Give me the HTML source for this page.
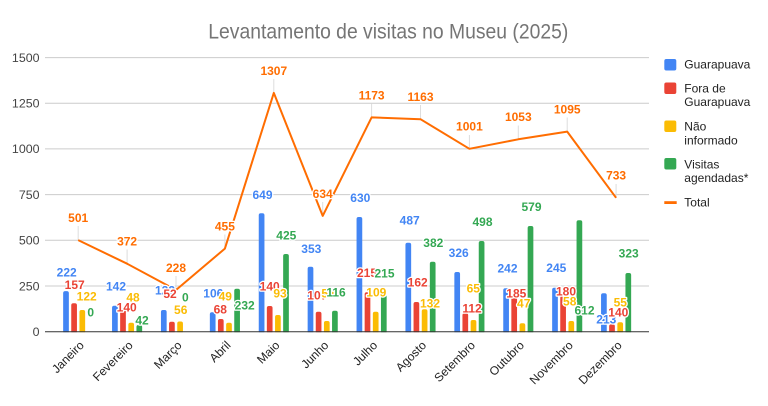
<!DOCTYPE html>
<html><head><meta charset="utf-8"><style>
html,body{margin:0;padding:0;background:#fff;}
svg{display:block;}
.yl{font-family:"Liberation Sans",Arial,sans-serif;font-size:12.4px;fill:#444;text-anchor:end;}
.xl{font-family:"Liberation Sans",Arial,sans-serif;font-size:12px;fill:#222;text-anchor:end;}
.lg{font-family:"Liberation Sans",Arial,sans-serif;font-size:12px;fill:#222;}
.dl{font-family:"Liberation Sans",Arial,sans-serif;font-size:12px;font-weight:bold;text-anchor:middle;stroke:#fff;stroke-width:2.5px;paint-order:stroke;stroke-linejoin:round;}
.b{fill:#4285f4}.r{fill:#ea4335}.y{fill:#fbbc04}.g{fill:#34a853}.o{fill:#ff6d01}
</style></head><body>
<svg width="768" height="406" viewBox="0 0 768 406" xmlns="http://www.w3.org/2000/svg">
<rect width="768" height="406" fill="#fff"/>
<text x="388.3" y="38.3" font-family="Liberation Sans, Arial, sans-serif" font-size="21" fill="#757575" text-anchor="middle" textLength="360" lengthAdjust="spacingAndGlyphs">Levantamento de visitas no Museu (2025)</text>

<!-- gridlines -->
<g stroke="#cccccc" stroke-width="1">
<line x1="45" x2="649" y1="57.6" y2="57.6"/>
<line x1="45" x2="649" y1="103.3" y2="103.3"/>
<line x1="45" x2="649" y1="148.9" y2="148.9"/>
<line x1="45" x2="649" y1="194.6" y2="194.6"/>
<line x1="45" x2="649" y1="240.3" y2="240.3"/>
<line x1="45" x2="649" y1="286.0" y2="286.0"/>
</g>
<g class="yl">
<text x="39.5" y="61.9">1500</text>
<text x="39.5" y="107.6">1250</text>
<text x="39.5" y="153.2">1000</text>
<text x="39.5" y="198.9">750</text>
<text x="39.5" y="244.6">500</text>
<text x="39.5" y="290.3">250</text>
<text x="39.5" y="336">0</text>
</g>

<!-- bars -->
<g>
<rect class="b" x="63.15" y="291.1" width="5.7" height="42.4" rx="2"/>
<rect class="r" x="71.25" y="303.3" width="5.7" height="30.2" rx="2"/>
<rect class="y" x="79.45" y="310" width="5.7" height="23.5" rx="2"/>

<rect class="b" x="112.05" y="305.7" width="5.7" height="27.8" rx="2"/>
<rect class="r" x="120.15" y="310" width="5.7" height="23.5" rx="2"/>
<rect class="y" x="128.35" y="322.7" width="5.7" height="10.8" rx="2"/>
<rect class="g" x="136.45" y="325" width="5.7" height="8.5" rx="2"/>

<rect class="b" x="160.95" y="310" width="5.7" height="23.5" rx="2"/>
<rect class="r" x="169.05" y="321.7" width="5.7" height="11.8" rx="2"/>
<rect class="y" x="177.25" y="321.5" width="5.7" height="12" rx="2"/>

<rect class="b" x="209.85" y="312.3" width="5.7" height="21.2" rx="2"/>
<rect class="r" x="217.95" y="319" width="5.7" height="14.5" rx="2"/>
<rect class="y" x="226.15" y="322.7" width="5.7" height="10.8" rx="2"/>
<rect class="g" x="234.25" y="288.7" width="5.7" height="44.8" rx="2"/>

<rect class="b" x="258.75" y="213.3" width="5.7" height="120.2" rx="2"/>
<rect class="r" x="266.85" y="306" width="5.7" height="27.5" rx="2"/>
<rect class="y" x="275.05" y="315" width="5.7" height="18.5" rx="2"/>
<rect class="g" x="283.15" y="254" width="5.7" height="79.5" rx="2"/>

<rect class="b" x="307.65" y="266.7" width="5.7" height="66.8" rx="2"/>
<rect class="r" x="315.75" y="311.7" width="5.7" height="21.8" rx="2"/>
<rect class="y" x="323.95" y="321" width="5.7" height="12.5" rx="2"/>
<rect class="g" x="332.05" y="310.7" width="5.7" height="22.8" rx="2"/>

<rect class="b" x="356.55" y="217" width="5.7" height="116.5" rx="2"/>
<rect class="r" x="364.65" y="292.3" width="5.7" height="41.2" rx="2"/>
<rect class="y" x="372.85" y="311.7" width="5.7" height="21.8" rx="2"/>
<rect class="g" x="380.95" y="295" width="5.7" height="38.5" rx="2"/>

<rect class="b" x="405.45" y="242.7" width="5.7" height="90.8" rx="2"/>
<rect class="r" x="413.55" y="302" width="5.7" height="31.5" rx="2"/>
<rect class="y" x="421.75" y="309.3" width="5.7" height="24.2" rx="2"/>
<rect class="g" x="429.85" y="261.7" width="5.7" height="71.8" rx="2"/>

<rect class="b" x="454.35" y="272" width="5.7" height="61.5" rx="2"/>
<rect class="r" x="462.45" y="313.3" width="5.7" height="20.2" rx="2"/>
<rect class="y" x="470.65" y="320" width="5.7" height="13.5" rx="2"/>
<rect class="g" x="478.75" y="241" width="5.7" height="92.5" rx="2"/>

<rect class="b" x="503.25" y="288.3" width="5.7" height="45.2" rx="2"/>
<rect class="r" x="511.35" y="297.3" width="5.7" height="36.2" rx="2"/>
<rect class="y" x="519.55" y="323.3" width="5.7" height="10.2" rx="2"/>
<rect class="g" x="527.65" y="226" width="5.7" height="107.5" rx="2"/>

<rect class="b" x="552.15" y="287.7" width="5.7" height="45.8" rx="2"/>
<rect class="r" x="560.25" y="296" width="5.7" height="37.5" rx="2"/>
<rect class="y" x="568.45" y="321" width="5.7" height="12.5" rx="2"/>
<rect class="g" x="576.55" y="220.3" width="5.7" height="113.2" rx="2"/>

<rect class="b" x="601.05" y="293.3" width="5.7" height="40.2" rx="2"/>
<rect class="r" x="609.15" y="324.3" width="5.7" height="9.2" rx="2"/>
<rect class="y" x="617.35" y="322.3" width="5.7" height="11.2" rx="2"/>
<rect class="g" x="625.45" y="273" width="5.7" height="60.5" rx="2"/>
</g>
<rect x="44" y="332.2" width="610" height="4" fill="#fff"/>
<line x1="45" x2="649" y1="331.7" y2="331.7" stroke="#333" stroke-width="1"/>

<!-- total leader lines -->
<g stroke="#dddddd" stroke-width="1">
<line x1="78.2" x2="78.2" y1="226" y2="240"/>
<line x1="127.1" x2="127.1" y1="249.5" y2="263.5"/>
<line x1="176" x2="176" y1="276" y2="290"/>
<line x1="224.9" x2="224.9" y1="234.5" y2="248.5"/>
<line x1="273.8" x2="273.8" y1="79" y2="93"/>
<line x1="322.7" x2="322.7" y1="202" y2="216"/>
<line x1="371.6" x2="371.6" y1="103.5" y2="117.5"/>
<line x1="420.5" x2="420.5" y1="105" y2="119"/>
<line x1="469.4" x2="469.4" y1="135" y2="149"/>
<line x1="518.3" x2="518.3" y1="125.5" y2="139.5"/>
<line x1="567.2" x2="567.2" y1="117.5" y2="131.5"/>
<line x1="616.1" x2="616.1" y1="184" y2="198"/>
</g>

<!-- total line -->
<polyline fill="none" stroke="#ff6d01" stroke-width="2" stroke-linejoin="round" points="78.2,240.15 127.1,263.7 176,290 224.9,248.6 273.8,92.9 322.7,215.9 371.6,117.4 420.5,119.2 469.4,148.8 518.3,139.3 567.2,131.6 616.1,197.8"/>

<!-- bar labels: blue -->
<g class="dl">
<text class="b" x="66.7" y="276.3">222</text>
<text class="b" x="116" y="290.6">142</text>
<text class="b" x="165" y="294.3">122</text>
<text class="b" x="213.3" y="297.3">106</text>
<text class="b" x="262.5" y="199">649</text>
<text class="b" x="311.3" y="253.1">353</text>
<text class="b" x="360.3" y="202">630</text>
<text class="b" x="409.7" y="224.6">487</text>
<text class="b" x="458.7" y="257">326</text>
<text class="b" x="507.5" y="272.6">242</text>
<text class="b" x="556.3" y="272">245</text>
<text class="b" x="606.3" y="323.3">213</text>
</g>
<g class="dl">
<text class="r" x="74.7" y="289">157</text>
<text class="r" x="126.7" y="311.3">140</text>
<text class="r" x="170" y="298">52</text>
<text class="r" x="220.3" y="313.6">68</text>
<text class="r" x="269.7" y="290.6">140</text>
<text class="r" x="317.3" y="299.3">107</text>
<text class="r" x="367" y="277.1">215</text>
<text class="r" x="417.7" y="286.5">162</text>
<text class="r" x="472" y="312.6">112</text>
<text class="r" x="516.3" y="297.6">185</text>
<text class="r" x="566" y="295.6">180</text>
<text class="r" x="618.3" y="316.6">140</text>
</g>
<g class="dl">
<text class="y" x="86.7" y="300.3">122</text>
<text class="y" x="133" y="301.3">48</text>
<text class="y" x="180.7" y="314">56</text>
<text class="y" x="225.3" y="300.3">49</text>
<text class="y" x="280" y="297.6">93</text>
<text class="y" x="328" y="297.3">58</text>
<text class="y" x="376.3" y="296.3">109</text>
<text class="y" x="430" y="307.6">132</text>
<text class="y" x="473.3" y="292.3">65</text>
<text class="y" x="523.7" y="307.6">47</text>
<text class="y" x="569.7" y="305.3">58</text>
<text class="y" x="620.3" y="306.6">55</text>
</g>
<g class="dl">
<text class="g" x="90.7" y="316.3">0</text>
<text class="g" x="142" y="324.3">42</text>
<text class="g" x="185.3" y="301.3">0</text>
<text class="g" x="244.7" y="309.6">232</text>
<text class="g" x="286.3" y="239.6">425</text>
<text class="g" x="336" y="296.3">116</text>
<text class="g" x="384.5" y="277.6">215</text>
<text class="g" x="433.3" y="247">382</text>
<text class="g" x="482.5" y="226">498</text>
<text class="g" x="531.5" y="211">579</text>
<text class="g" x="584.5" y="314.3">612</text>
<text class="g" x="628.7" y="257.6">323</text>
</g>
<g class="dl">
<text class="o" x="78.2" y="222">501</text>
<text class="o" x="127.1" y="245.6">372</text>
<text class="o" x="176" y="272">228</text>
<text class="o" x="224.9" y="230.5">455</text>
<text class="o" x="273.8" y="74.8">1307</text>
<text class="o" x="322.7" y="197.8">634</text>
<text class="o" x="371.6" y="99.3">1173</text>
<text class="o" x="420.5" y="101.1">1163</text>
<text class="o" x="469.4" y="130.7">1001</text>
<text class="o" x="518.3" y="121.2">1053</text>
<text class="o" x="567.2" y="113.5">1095</text>
<text class="o" x="616.1" y="179.7">733</text>
</g>

<!-- x labels -->
<g class="xl">
<text transform="translate(84.7,346) rotate(-45)">Janeiro</text>
<text transform="translate(133.6,346) rotate(-45)">Fevereiro</text>
<text transform="translate(182.5,346) rotate(-45)">Março</text>
<text transform="translate(231.4,346) rotate(-45)">Abril</text>
<text transform="translate(280.3,346) rotate(-45)">Maio</text>
<text transform="translate(329.2,346) rotate(-45)">Junho</text>
<text transform="translate(378.1,346) rotate(-45)">Julho</text>
<text transform="translate(427,346) rotate(-45)">Agosto</text>
<text transform="translate(475.9,346) rotate(-45)">Setembro</text>
<text transform="translate(524.8,346) rotate(-45)">Outubro</text>
<text transform="translate(573.7,346) rotate(-45)">Novembro</text>
<text transform="translate(622.6,346) rotate(-45)">Dezembro</text>
</g>

<!-- legend -->
<rect x="664.3" y="59" width="12" height="11.5" rx="2" fill="#4285f4"/>
<rect x="664.3" y="82.5" width="12" height="11.5" rx="2" fill="#ea4335"/>
<rect x="664.3" y="120.5" width="12" height="11.5" rx="2" fill="#fbbc04"/>
<rect x="664.3" y="158" width="12" height="11.5" rx="2" fill="#34a853"/>
<rect x="664.3" y="201.2" width="12.4" height="2.8" fill="#ff6d01"/>
<g class="lg">
<text x="684.3" y="68.3">Guarapuava</text>
<text x="684.3" y="92.3">Fora de</text>
<text x="684.3" y="106">Guarapuava</text>
<text x="684.3" y="130.7">Não</text>
<text x="684.3" y="144.3">informado</text>
<text x="684.3" y="168.3">Visitas</text>
<text x="684.3" y="182">agendadas*</text>
<text x="684.3" y="206.7">Total</text>
</g>
</svg>
</body></html>
